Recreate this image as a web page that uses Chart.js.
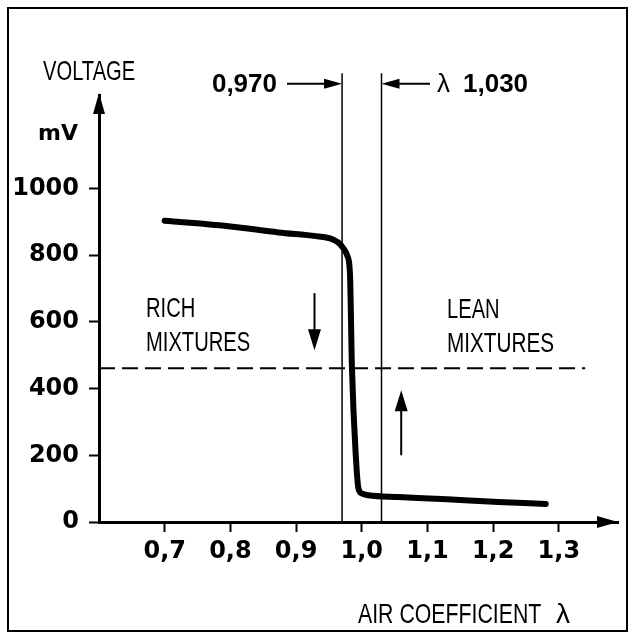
<!DOCTYPE html>
<html>
<head>
<meta charset="utf-8">
<script src="https://cdn.jsdelivr.net/npm/chart.js@4.4.0/dist/chart.umd.min.js"></script>
<style>
  html, body { margin: 0; padding: 0; background: #fff; }
  canvas { display: block; }
</style>
</head>
<body>
<canvas id="chart" width="635" height="640"></canvas>
<script>
// Lambda-sensor output: voltage (mV) against air coefficient λ
const lambdaTicks = [0.7, 0.8, 0.9, 1.0, 1.1, 1.2, 1.3];
const voltageTicks = [0, 200, 400, 600, 800, 1000];

const curveLambda = [0.70, 0.80, 0.873, 0.93, 0.95, 0.964, 0.972, 0.978, 0.982, 0.985, 0.991, 0.995, 1.001, 1.010, 1.056, 1.13, 1.208, 1.28];
const curveMv     = [903,  886,  868,   857,  851,  838,   820,   798,   745,   464,   195,   100,   85,    80,    75,    68,   60,    54];

const thresholdLambda = [0.6, 1.34];
const thresholdMv = [461, 461];

const windowLambda = [0.970, 1.030];
const windowLabels = ['0,970', '1,030'];

const voltageTitle = 'VOLTAGE';
const voltageUnit = 'mV';
const lambdaTitle = 'AIR COEFFICIENT';
const richLabel = ['RICH', 'MIXTURES'];
const leanLabel = ['LEAN', 'MIXTURES'];

const fmtLambda = v => v.toFixed(1).replace('.', ',');

const pts = (xs, ys) => xs.map((x, i) => ({ x, y: ys[i] }));

function condensed(ctx, text, x, y, size, sx) {
  ctx.save();
  ctx.font = size + 'px "Liberation Sans", Arial, sans-serif';
  ctx.textAlign = 'left';
  ctx.textBaseline = 'alphabetic';
  ctx.translate(x, y);
  ctx.scale(sx, 1);
  ctx.fillText(text, 0, 0);
  ctx.restore();
}

function arrowHead(ctx, tipX, tipY, dir, len, half) {
  // dir: 'up' | 'down' | 'left' | 'right'
  ctx.beginPath();
  if (dir === 'up') { ctx.moveTo(tipX, tipY); ctx.lineTo(tipX - half, tipY + len); ctx.lineTo(tipX + half, tipY + len); }
  if (dir === 'down') { ctx.moveTo(tipX, tipY); ctx.lineTo(tipX - half, tipY - len); ctx.lineTo(tipX + half, tipY - len); }
  if (dir === 'right') { ctx.moveTo(tipX, tipY); ctx.lineTo(tipX - len, tipY - half); ctx.lineTo(tipX - len, tipY + half); }
  if (dir === 'left') { ctx.moveTo(tipX, tipY); ctx.lineTo(tipX + len, tipY - half); ctx.lineTo(tipX + len, tipY + half); }
  ctx.closePath();
  ctx.fill();
}

function arrowLine(ctx, x1, y1, x2, y2, width) {
  ctx.beginPath();
  ctx.lineWidth = width;
  ctx.moveTo(x1, y1);
  ctx.lineTo(x2, y2);
  ctx.stroke();
}

const decorations = {
  id: 'decorations',
  beforeDraw(chart) {
    const ctx = chart.ctx;
    ctx.save();
    ctx.fillStyle = '#fff';
    ctx.fillRect(0, 0, chart.width, chart.height);
    ctx.restore();
  },
  afterDraw(chart) {
    const ctx = chart.ctx;
    const xs = chart.scales.x, ys = chart.scales.y;
    const area = chart.chartArea;
    ctx.save();
    ctx.fillStyle = '#000';
    ctx.strokeStyle = '#000';

    // frame
    ctx.lineWidth = 2;
    ctx.strokeRect(8, 8, 619, 623);

    // axis arrow heads
    arrowHead(ctx, area.left, area.top - 2, 'up', 21, 6);
    arrowHead(ctx, area.right, area.bottom, 'right', 21, 6);

    // axis titles
    condensed(ctx, voltageTitle, 43, 80, 28, 0.72);
    ctx.font = 'bold 22px "DejaVu Sans", sans-serif';
    ctx.textAlign = 'left';
    ctx.textBaseline = 'alphabetic';
    ctx.fillText(voltageUnit, 38, 140);
    condensed(ctx, lambdaTitle, 358, 623, 28, 0.76);
    ctx.font = '28px "Liberation Sans", Arial, sans-serif';
    ctx.fillText('λ', 556, 623);

    // mixture labels
    condensed(ctx, richLabel[0], 146, 317, 28, 0.72);
    condensed(ctx, richLabel[1], 146, 351, 28, 0.72);
    condensed(ctx, leanLabel[0], 447, 318, 28, 0.72);
    condensed(ctx, leanLabel[1], 447, 352, 28, 0.74);

    // rich / lean direction arrows
    const rx = xs.getPixelForValue(0.928);
    arrowLine(ctx, rx, ys.getPixelForValue(686), rx, ys.getPixelForValue(540), 2);
    arrowHead(ctx, rx, ys.getPixelForValue(515), 'down', 21, 6.5);
    const lx = xs.getPixelForValue(1.060);
    arrowLine(ctx, lx, ys.getPixelForValue(200), lx, ys.getPixelForValue(370), 2);
    arrowHead(ctx, lx, ys.getPixelForValue(395), 'up', 21, 6.5);

    // λ window annotation
    const rowY = ys.getPixelForValue(1314);
    const wl = xs.getPixelForValue(windowLambda[0]);
    const wr = xs.getPixelForValue(windowLambda[1]);
    arrowLine(ctx, 287, rowY, wl - 10, rowY, 2);
    arrowHead(ctx, wl, rowY, 'right', 18, 5);
    arrowLine(ctx, wr + 10, rowY, 430, rowY, 2);
    arrowHead(ctx, wr, rowY, 'left', 18, 5);

    ctx.font = 'bold 26px "Liberation Sans", Arial, sans-serif';
    ctx.textAlign = 'right';
    ctx.fillText(windowLabels[0], 277, 92);
    ctx.textAlign = 'left';
    ctx.font = '26px "Liberation Sans", Arial, sans-serif';
    ctx.fillText('λ', 437, 92);
    ctx.font = 'bold 26px "Liberation Sans", Arial, sans-serif';
    ctx.fillText(windowLabels[1], 463, 92);

    ctx.restore();
  }
};

const windowTop = 1345;

new Chart(document.getElementById('chart'), {
  type: 'line',
  data: {
    datasets: [
      {
        data: pts(curveLambda, curveMv),
        borderColor: '#000',
        borderWidth: 6,
        borderCapStyle: 'round',
        borderJoinStyle: 'round',
        cubicInterpolationMode: 'monotone',
        pointRadius: 0,
        fill: false
      },
      {
        data: pts(thresholdLambda, thresholdMv),
        borderColor: '#000',
        borderWidth: 2,
        borderDash: [16, 7],
        pointRadius: 0,
        fill: false
      },
      {
        data: [{ x: windowLambda[0], y: 0 }, { x: windowLambda[0], y: windowTop }],
        borderColor: '#000',
        borderWidth: 1.5,
        pointRadius: 0,
        clip: false,
        fill: false
      },
      {
        data: [{ x: windowLambda[1], y: 0 }, { x: windowLambda[1], y: windowTop }],
        borderColor: '#000',
        borderWidth: 1.5,
        pointRadius: 0,
        clip: false,
        fill: false
      }
    ]
  },
  options: {
    responsive: false,
    animation: false,
    events: [],
    layout: { padding: { left: 0, right: 17, top: 95, bottom: 0 } },
    plugins: { legend: { display: false }, tooltip: { enabled: false } },
    scales: {
      x: {
        type: 'linear',
        min: 0.6,
        max: 1.39,
        afterBuildTicks: s => { s.ticks = lambdaTicks.map(v => ({ value: v })); },
        afterFit: s => { s.height = 118; },
        grid: { drawOnChartArea: false, drawTicks: true, tickLength: 10, tickWidth: 2, tickColor: '#000' },
        border: { display: true, color: '#000', width: 3 },
        ticks: {
          color: '#000',
          autoSkip: false,
          maxRotation: 0,
          padding: 5,
          font: { family: '"DejaVu Sans", sans-serif', weight: 'bold', size: 24 },
          callback: v => fmtLambda(v)
        }
      },
      y: {
        type: 'linear',
        min: 0,
        max: 1280,
        afterBuildTicks: s => { s.ticks = voltageTicks.map(v => ({ value: v })); },
        afterFit: s => { s.width = 99; },
        grid: { drawOnChartArea: false, drawTicks: true, tickLength: 10, tickWidth: 2, tickColor: '#000' },
        border: { display: true, color: '#000', width: 3 },
        ticks: {
          color: '#000',
          padding: 10,
          font: { family: '"DejaVu Sans", sans-serif', weight: 'bold', size: 24 },
          callback: v => String(v)
        }
      }
    }
  },
  plugins: [decorations]
});
</script>
</body>
</html>
